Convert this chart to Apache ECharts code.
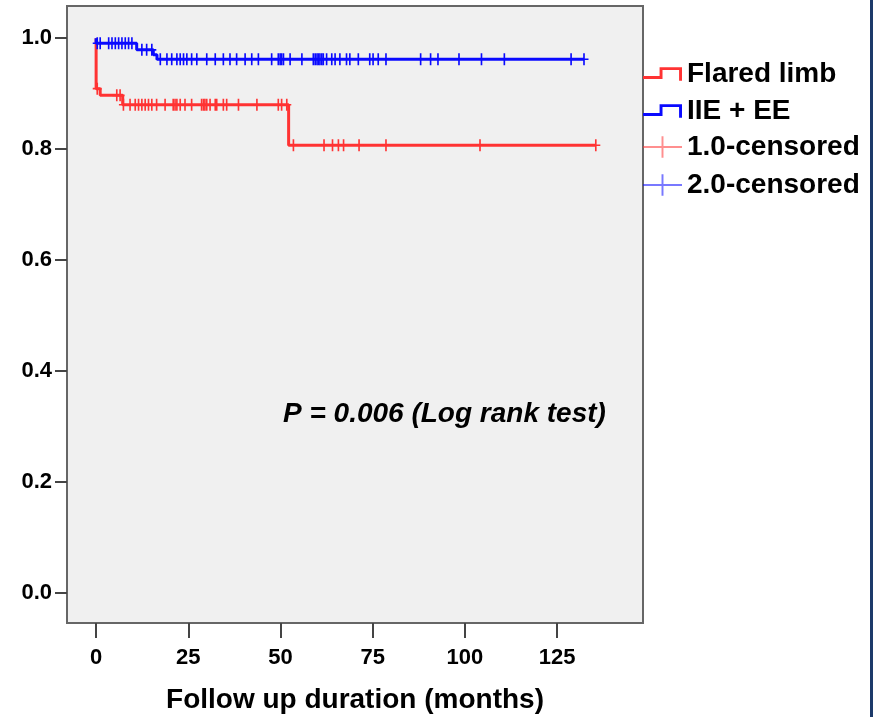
<!DOCTYPE html>
<html>
<head>
<meta charset="utf-8">
<script src="https://cdn.jsdelivr.net/npm/echarts@6/dist/echarts.min.js"></script>
<style>
  html, body { margin: 0; padding: 0; background: #fff; }
  #main { width: 873px; height: 717px; }
</style>
</head>
<body>
<div id="main"></div>
<script>
// Kaplan-Meier steps (time in months, cumulative survival)
var redTimes = [0, 0, 1.1, 7.2, 52.2, 135.5];
var redSurv  = [1, 0.909, 0.897, 0.880, 0.807, 0.807];
var blueTimes = [0, 0, 11.0, 15.5, 16.5, 132.3];
var blueSurv  = [1, 0.991, 0.979, 0.970, 0.962, 0.962];

// censored cases (months)
var redCensored = [0.3, 5.6, 6.5, 7.4, 9.2, 10.6, 11.5, 12.4, 13.3, 14.2, 15.1, 16.4, 18.7,
  20.9, 21.4, 21.9, 22.8, 24.1, 25.9, 28.6, 29.1, 29.5, 30.0, 30.9, 32.3, 32.7, 34.5, 35.4,
  38.6, 43.6, 49.4, 50.3, 51.7, 53.5, 61.8, 64.1, 65.7, 67.1, 71.3, 78.6, 104.1, 135.5];
var blueCensored = [0.3, 1.1, 3.4, 4.3, 5.2, 6.1, 7.0, 7.9, 8.8, 9.7, 12.4, 13.7, 15.1,
  17.4, 19.2, 20.5, 21.9, 22.8, 23.7, 24.6, 25.9, 27.3, 30.0, 32.3, 34.5, 36.3, 38.1, 40.4,
  42.2, 44.0, 47.6, 49.4, 49.9, 50.3, 50.8, 52.6, 55.8, 58.9, 59.4, 59.9, 60.3, 60.7, 61.2,
  61.6, 62.5, 63.9, 64.8, 66.1, 67.9, 68.8, 71.1, 74.2, 75.1, 76.5, 78.6, 88.0, 90.7, 92.7,
  98.4, 104.5, 110.7, 128.8, 132.3];

var xTicks = [0, 25, 50, 75, 100, 125];
var yTicks = [0, 0.2, 0.4, 0.6, 0.8, 1.0];

var RED = '#ff3333';
var BLUE = '#0a0aff';
var FONT = '"Liberation Sans", Arial, sans-serif';

function pairs(ts, ss) {
  var out = [];
  for (var i = 0; i < ts.length; i++) out.push([ts[i], ss[i]]);
  return out;
}
// survival level of a step curve at time t
function levelAt(ts, ss, t) {
  var s = ss[0];
  for (var i = 0; i < ts.length; i++) {
    if (ts[i] <= t) s = ss[i];
  }
  return s;
}
function censorPts(cs, ts, ss) {
  return cs.map(function (t) { return [t, levelAt(ts, ss, t)]; });
}

var stepIcon = 'path://M0,9L17,9L17,0L40,0L40,14L37,14L37,3L20,3L20,12L0,12Z';
var plusIcon = 'path://M0,10L40,10L40,12L0,12ZM19,0L21,0L21,22L19,22Z';
var censorMark = 'path://M3.6,0L5.2,0L5.2,12L3.6,12ZM0,5.2L8.8,5.2L8.8,6.8L0,6.8Z';

var chart = echarts.init(document.getElementById('main'));
chart.setOption({
  backgroundColor: '#ffffff',
  animation: false,
  grid: {
    left: 67, top: 6, width: 576, height: 617,
    outerBoundsMode: 'none',
    show: true, backgroundColor: '#f0f0f0',
    borderColor: '#666666', borderWidth: 2
  },
  xAxis: {
    type: 'value', min: -7.9, max: 148.3,
    name: 'Follow up duration (months)',
    nameLocation: 'middle', nameGap: 63,
    nameTextStyle: { fontFamily: FONT, fontWeight: 'bold', fontSize: 28, color: '#000' },
    splitLine: { show: false },
    axisLine: { show: false, onZero: false },
    axisTick: { show: true, length: 15, customValues: xTicks, lineStyle: { color: '#444', width: 2 } },
    axisLabel: {
      customValues: xTicks, margin: 24,
      fontFamily: FONT, fontWeight: 'bold', fontSize: 22, color: '#000'
    }
  },
  yAxis: {
    type: 'value', min: -0.054, max: 1.058,
    splitLine: { show: false },
    axisLine: { show: false, onZero: false },
    axisTick: { show: true, length: 12, customValues: yTicks, lineStyle: { color: '#444', width: 2 } },
    axisLabel: {
      customValues: yTicks, margin: 15,
      formatter: function (v) { return v.toFixed(1); },
      fontFamily: FONT, fontWeight: 'bold', fontSize: 22, color: '#000'
    }
  },
  legend: [{
    orient: 'vertical', left: 643, top: 60, padding: 0,
    itemWidth: 39, itemHeight: 14, itemGap: 9,
    textStyle: { fontFamily: FONT, fontWeight: 'bold', fontSize: 28, lineHeight: 28, color: '#000' },
    data: [{ name: 'Flared limb', icon: stepIcon }, { name: 'IIE + EE', icon: stepIcon }]
  }, {
    orient: 'vertical', left: 643, top: 133, padding: 0,
    itemWidth: 39, itemHeight: 22, itemGap: 10,
    textStyle: { fontFamily: FONT, fontWeight: 'bold', fontSize: 28, lineHeight: 28, color: '#000' },
    data: [
      { name: '1.0-censored', icon: plusIcon, itemStyle: { opacity: 0.55 } },
      { name: '2.0-censored', icon: plusIcon, itemStyle: { opacity: 0.55 } }
    ]
  }],
  graphic: [{
    type: 'text', left: 283, top: 400,
    style: {
      text: 'P = 0.006 (Log rank test)',
      font: 'italic bold 28px "Liberation Sans", Arial, sans-serif',
      fill: '#000'
    }
  }, {
    type: 'rect', shape: { x: 870, y: 0, width: 3, height: 717 },
    style: { fill: '#1d3a6a' }
  }],
  series: [{
    name: 'Flared limb', type: 'line', step: 'end', showSymbol: false,
    data: pairs(redTimes, redSurv),
    lineStyle: { color: RED, width: 3 }, itemStyle: { color: RED }, z: 3
  }, {
    name: 'IIE + EE', type: 'line', step: 'end', showSymbol: false,
    data: pairs(blueTimes, blueSurv),
    lineStyle: { color: BLUE, width: 3 }, itemStyle: { color: BLUE }, z: 3
  }, {
    name: '1.0-censored', type: 'scatter',
    symbol: censorMark, symbolSize: [9, 12],
    data: censorPts(redCensored, redTimes, redSurv),
    itemStyle: { color: RED, opacity: 1 }, z: 4
  }, {
    name: '2.0-censored', type: 'scatter',
    symbol: censorMark, symbolSize: [9, 12],
    data: censorPts(blueCensored, blueTimes, blueSurv),
    itemStyle: { color: BLUE, opacity: 1 }, z: 4
  }]
});
</script>
</body>
</html>
